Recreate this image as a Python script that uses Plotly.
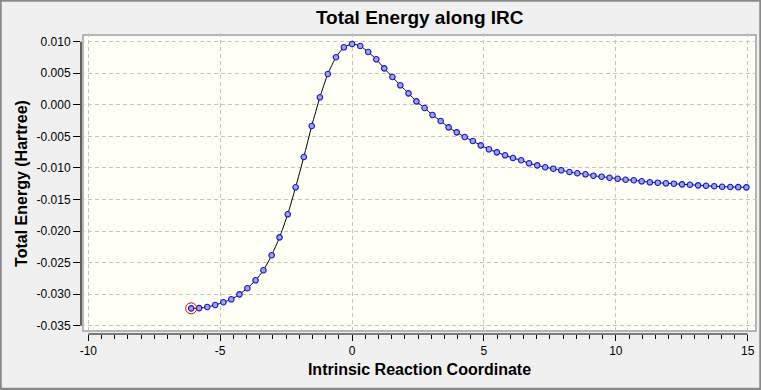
import plotly.graph_objects as go

# IRC data (reverse direction ... TS ... forward direction)
irc_reverse_x = [-6.10, -5.80, -5.49, -5.19, -4.88, -4.58, -4.27, -3.97, -3.66, -3.36,
                 -3.05, -2.75, -2.44, -2.14, -1.83, -1.53, -1.22, -0.92, -0.61, -0.31, 0.00]
energy_reverse = [-0.03225, -0.03222, -0.03204, -0.03172, -0.03129, -0.03082, -0.03003,
                  -0.02906, -0.02781, -0.02622, -0.02383, -0.02100, -0.01735, -0.01307,
                  -0.00827, -0.00336, 0.00119, 0.00488, 0.00753, 0.00911, 0.00963]

irc_forward_x = [0.31, 0.61, 0.92, 1.22, 1.53, 1.83, 2.14, 2.44, 2.75, 3.05,
                 3.36, 3.66, 3.97, 4.27, 4.58, 4.88, 5.19, 5.49, 5.80, 6.10,
                 6.41, 6.71, 7.02, 7.32, 7.63, 7.93, 8.24, 8.54, 8.85, 9.15,
                 9.46, 9.76, 10.07, 10.37, 10.68, 10.98, 11.29, 11.59, 11.90, 12.20,
                 12.51, 12.81, 13.12, 13.42, 13.73, 14.03, 14.34, 14.64, 14.95]
energy_forward = [0.00932, 0.00837, 0.00721, 0.00578, 0.00440, 0.00309, 0.00182, 0.00055,
                  -0.00051, -0.00162, -0.00257, -0.00357, -0.00436, -0.00510, -0.00574,
                  -0.00642, -0.00705, -0.00753, -0.00800, -0.00843, -0.00879, -0.00927,
                  -0.00959, -0.00990, -0.01012, -0.01038, -0.01065, -0.01085, -0.01101,
                  -0.01123, -0.01139, -0.01155, -0.01171, -0.01187, -0.01196, -0.01212,
                  -0.01228, -0.01234, -0.01244, -0.01250, -0.01260, -0.01266, -0.01276,
                  -0.01282, -0.01291, -0.01298, -0.01302, -0.01305, -0.01308]

x_ticks = [-10, -5, 0, 5, 10, 15]
y_ticks = [0.010, 0.005, 0.000, -0.005, -0.010, -0.015, -0.020, -0.025, -0.030, -0.035]
y_tick_labels = ["0.010", "0.005", "0.000", "-0.005", "-0.010", "-0.015",
                 "-0.020", "-0.025", "-0.030", "-0.035"]

title_text = "Total Energy along IRC"
x_title = "Intrinsic Reaction Coordinate"
y_title = "Total Energy (Hartree)"

irc_x = irc_reverse_x + irc_forward_x
energy = energy_reverse + energy_forward

W, H = 761, 390
ML, MR, MT, MB = 81, 3, 33, 56
pw = W - ML - MR
ph = H - MT - MB

FONT = "Liberation Sans, Arial, sans-serif"

fig = go.Figure()
fig.add_trace(go.Scatter(
    x=irc_x, y=energy, mode="lines+markers",
    line=dict(color="black", width=1, shape="spline", smoothing=0.6),
    marker=dict(symbol="circle", size=5.5, color="#A0A6CC",
                line=dict(color="#1010F0", width=1.1)),
    showlegend=False, hoverinfo="x+y",
))
# highlighted current point
fig.add_trace(go.Scatter(
    x=irc_x[:1], y=energy[:1], mode="markers",
    marker=dict(symbol="circle-open", size=11, color="#E00000",
                line=dict(color="#E00000", width=1)),
    showlegend=False, hoverinfo="skip",
))

def px_x(p):
    return (p - ML) / pw

def px_y(p):
    return (H - MB - p) / ph

shapes = [
    # plot frame (ivory background)
    dict(type="rect", xref="paper", yref="paper",
         x0=px_x(83), x1=px_x(756), y0=px_y(331), y1=px_y(35),
         fillcolor="#FFFFF6", line=dict(color="#A0A0A0", width=1.5), layer="below"),
    # axis lines limited to tick range
    dict(type="line", xref="x", yref="paper", x0=x_ticks[0], x1=x_ticks[-1], y0=0, y1=0,
         line=dict(color="black", width=1.2)),
    dict(type="line", xref="paper", yref="y", x0=0, x1=0, y0=y_ticks[-1], y1=y_ticks[0],
         line=dict(color="black", width=1.2)),
    # outer window border
    dict(type="rect", xref="paper", yref="paper",
         x0=px_x(0.5), x1=px_x(W - 0.5), y0=px_y(H - 1), y1=px_y(0.5),
         line=dict(color="#8A8A8A", width=2.5), fillcolor="rgba(0,0,0,0)", layer="above"),
]

fig.update_layout(
    width=W, height=H,
    margin=dict(l=ML, r=MR, t=MT, b=MB, autoexpand=False),
    paper_bgcolor="#F0F0F0", plot_bgcolor="#F0F0F0",
    font=dict(family=FONT, size=12, color="black"),
    title=dict(text=title_text, x=(312.7 + 526.7) / 2 / W, xanchor="center",
               y=1 - 17.5 / H, yanchor="middle", yref="container",
               font=dict(family=FONT, size=19, weight=700, color="black")),
    shapes=shapes,
    xaxis=dict(
        range=[-10.277, 15.39], tickvals=x_ticks, ticktext=[str(v) for v in x_ticks],
        showgrid=True, gridcolor="#C4C4C4", griddash="4px,3px", gridwidth=1,
        zeroline=False, showline=False,
        ticks="outside", ticklen=6, tickcolor="black", tickwidth=1,
        minor=dict(dtick=0.5, tick0=0, ticks="outside", ticklen=3.5, tickcolor="black",
                   showgrid=False),
        tickfont=dict(family=FONT, size=12, color="black"),
        title=dict(text=x_title, standoff=6,
                   font=dict(family=FONT, size=16, weight=700, color="black")),
        fixedrange=True,
    ),
    yaxis=dict(
        range=[-0.036315, 0.011379], tickvals=y_ticks, ticktext=y_tick_labels,
        showgrid=True, gridcolor="#C4C4C4", griddash="4px,3px", gridwidth=1,
        zeroline=False, showline=False,
        ticks="outside", ticklen=7, tickcolor="black", tickwidth=1,
        tickfont=dict(family=FONT, size=12, color="black"),
        title=dict(text=y_title, standoff=4,
                   font=dict(family=FONT, size=16, weight=700, color="black")),
        fixedrange=True,
    ),
)

fig.write_html(
    "out.html",
    config={"displayModeBar": False},
    post_script="document.body.style.margin='0';document.body.style.overflow='hidden';",
)
